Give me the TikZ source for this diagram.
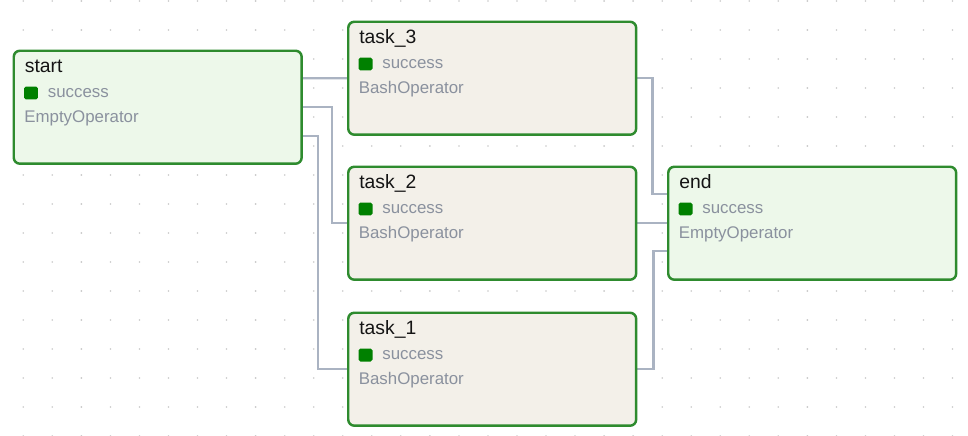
\documentclass[tikz,border=0pt]{standalone}
\usepackage{fontspec}
\setmainfont{Liberation Sans}
\usetikzlibrary{backgrounds}
\definecolor{boxgreen}{RGB}{46,139,46}
\definecolor{okgreen}{RGB}{0,128,0}
\definecolor{greenfill}{RGB}{237,248,234}
\definecolor{bashfill}{RGB}{243,240,233}
\definecolor{linkgray}{RGB}{170,179,194}
\definecolor{dotgray}{RGB}{200,200,200}
\definecolor{subgray}{RGB}{138,145,158}
\tikzset{
  taskbox/.style={draw=boxgreen,line width=1.4pt,rounded corners=3.5pt,
    minimum width=5.76cm,minimum height=2.26cm,anchor=north west,inner sep=0pt},
  emptybox/.style={taskbox,fill=greenfill},
  bashbox/.style={taskbox,fill=bashfill},
  tasktitle/.style={anchor=base west,inner sep=0pt,text=black!92,font=\fontsize{11}{13}\selectfont},
  statetext/.style={anchor=base west,inner sep=0pt,text=subgray,font=\fontsize{9.6}{11}\selectfont},
  optext/.style={anchor=base west,inner sep=0pt,text=subgray,font=\fontsize{9.6}{11}\selectfont},
  okmark/.style={fill=okgreen,rounded corners=1pt,minimum width=0.28cm,minimum height=0.26cm,inner sep=0pt},
  link/.style={draw=linkgray,line width=1.3pt}
}
\begin{document}
\begin{tikzpicture}[x=0.02cm,y=-0.02cm]
\useasboundingbox (0,0) rectangle (968,436);
%
\node[emptybox] (start) at (12.5,49.5) {};
\node[bashbox] (task3) at (347,20.5) {};
\node[bashbox] (task2) at (347,165.5) {};
\node[bashbox] (task1) at (347,311.5) {};
\node[emptybox] (end) at (667,165.5) {};
%
\node[tasktitle] (start-t) at ([shift={(12,23)}]start.north west) {start};
\node[okmark] (start-m) at ([shift={(18.5,43.5)}]start.north west) {};
\node[statetext] (start-s) at ([shift={(35,48)}]start.north west) {success};
\node[optext] (start-o) at ([shift={(11.5,73)}]start.north west) {EmptyOperator};
%
\node[tasktitle] (task3-t) at ([shift={(12,23)}]task3.north west) {task\_3};
\node[okmark] (task3-m) at ([shift={(18.5,43.5)}]task3.north west) {};
\node[statetext] (task3-s) at ([shift={(35,48)}]task3.north west) {success};
\node[optext] (task3-o) at ([shift={(11.5,73)}]task3.north west) {BashOperator};
%
\node[tasktitle] (task2-t) at ([shift={(12,23)}]task2.north west) {task\_2};
\node[okmark] (task2-m) at ([shift={(18.5,43.5)}]task2.north west) {};
\node[statetext] (task2-s) at ([shift={(35,48)}]task2.north west) {success};
\node[optext] (task2-o) at ([shift={(11.5,73)}]task2.north west) {BashOperator};
%
\node[tasktitle] (task1-t) at ([shift={(12,23)}]task1.north west) {task\_1};
\node[okmark] (task1-m) at ([shift={(18.5,43.5)}]task1.north west) {};
\node[statetext] (task1-s) at ([shift={(35,48)}]task1.north west) {success};
\node[optext] (task1-o) at ([shift={(11.5,73)}]task1.north west) {BashOperator};
%
\node[tasktitle] (end-t) at ([shift={(12,23)}]end.north west) {end};
\node[okmark] (end-m) at ([shift={(18.5,43.5)}]end.north west) {};
\node[statetext] (end-s) at ([shift={(35,48)}]end.north west) {success};
\node[optext] (end-o) at ([shift={(11.5,73)}]end.north west) {EmptyOperator};
%
\begin{scope}[on background layer]
% dotted background
\foreach \i in {0,...,32}
  \foreach \j in {0,...,15}
    \fill[dotgray] (23.3+29.04*\i,1+29*\j) circle (0.018cm);
% connectors
\draw[link] ([yshift=0.58cm]start.east) -- (task3.west);
\draw[link] (start.east) -- ++(29,0) |- (task2.west);
\draw[link] ([yshift=-0.58cm]start.east) -- ++(15,0) |- (task1.west);
\draw[link] (task3.east) -- ++(15,0) |- ([yshift=0.58cm]end.west);
\draw[link] (task2.east) -- (end.west);
\draw[link] (task1.east) -- ++(16,0) |- ([yshift=-0.56cm]end.west);
\end{scope}
\end{tikzpicture}
\end{document}
